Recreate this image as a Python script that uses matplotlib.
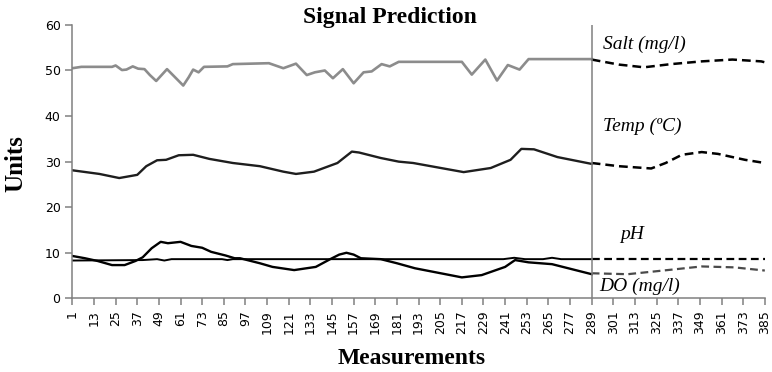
import matplotlib
matplotlib.use('Agg')
import matplotlib.pyplot as plt

salt_x = [1, 6, 23, 25, 28.5, 31, 34.5, 37.5, 41, 44, 47.5, 50.5, 53.5, 58, 62.5, 65.5, 68, 71, 74,
          87, 90, 110, 118, 125, 131, 135.5, 141, 145.5, 151, 157, 162.5, 167, 172.5, 177, 182,
          184.5, 217, 222.5, 230, 236.5, 242.5, 249, 254, 289]
salt_y = [50.5, 50.8, 50.8, 51.1, 50.1, 50.2, 50.9, 50.4, 50.3, 49.0, 47.7, 49.0, 50.3, 48.5, 46.7,
          48.5, 50.2, 49.6, 50.8, 50.9, 51.4, 51.6, 50.5, 51.5, 49.0, 49.6, 50.0, 48.3, 50.3, 47.2,
          49.6, 49.8, 51.4, 50.9, 51.9, 51.9, 51.9, 49.1, 52.4, 47.8, 51.2, 50.2, 52.5, 52.5]
salt_px = [289, 304, 318, 333, 350, 367, 383, 385]
salt_py = [52.4, 51.3, 50.7, 51.4, 52.0, 52.4, 52.0, 51.8]

temp_x = [1, 16, 27, 37, 42, 48, 53, 60, 68, 77, 90, 105, 118, 125, 135, 148, 156, 160, 172,
          182, 190, 218, 233, 244, 250, 257, 270, 289]
temp_y = [28.1, 27.3, 26.4, 27.1, 29.0, 30.3, 30.4, 31.4, 31.5, 30.6, 29.7, 29.0, 27.8, 27.3, 27.8,
          29.7, 32.2, 32.0, 30.8, 30.0, 29.7, 27.7, 28.6, 30.4, 32.8, 32.7, 31.0, 29.5]
temp_px = [289, 304, 322, 330, 339, 350, 359, 374, 385]
temp_py = [29.7, 29.0, 28.5, 29.7, 31.5, 32.1, 31.7, 30.4, 29.7]

ph_x = [1, 40, 48, 52, 56, 84, 87, 90, 240, 246, 252, 262, 267, 272, 289]
ph_y = [8.3, 8.4, 8.6, 8.3, 8.6, 8.6, 8.4, 8.6, 8.6, 8.9, 8.6, 8.6, 8.9, 8.6, 8.6]
ph_px = [289, 385]
ph_py = [8.6, 8.6]

do_x = [1, 8, 15, 23, 30, 36, 40, 45, 50, 54, 61, 67, 73, 78, 86, 91, 94, 105, 112, 124, 136,
        144, 149, 153, 157, 161, 172, 181, 191, 217, 228, 241, 246.5, 254, 267, 278, 289]
do_y = [9.3, 8.8, 8.2, 7.3, 7.3, 8.2, 9.0, 11.0, 12.4, 12.1, 12.4, 11.5, 11.1, 10.2, 9.4, 8.8,
        8.8, 7.7, 6.9, 6.2, 6.9, 8.6, 9.6, 10.0, 9.6, 8.8, 8.6, 7.7, 6.6, 4.6, 5.1, 6.9, 8.4, 7.9,
        7.5, 6.4, 5.3]
do_px = [289, 309, 331, 350, 368, 385]
do_py = [5.5, 5.3, 6.2, 7.0, 6.8, 6.1]

x_ticks = list(range(1, 386, 12))

fig = plt.figure(figsize=(7.72, 3.72), dpi=100)
ax = fig.add_axes([0.0937, 0.198, 0.897, 0.735])

ax.plot(salt_x, salt_y, color='#8c8c8c', lw=1.9)
ax.plot(salt_px, salt_py, color='black', lw=1.8, ls=(0, (3.5, 2)))
ax.plot(temp_x, temp_y, color='#1e1e1e', lw=1.7)
ax.plot(temp_px, temp_py, color='black', lw=1.8, ls=(0, (3.5, 2)))
ax.plot(ph_x, ph_y, color='black', lw=1.4)
ax.plot(ph_px, ph_py, color='black', lw=1.6, ls=(0, (3.5, 2)))
ax.plot(do_x, do_y, color='black', lw=1.7)
ax.plot(do_px, do_py, color='#4a4a4a', lw=1.6, ls=(0, (3.5, 2)))

ax.axvline(289, color='#808080', lw=1.1)

ax.set_xlim(1, 385)
ax.set_ylim(0, 60)
ax.set_yticks(range(0, 61, 10))
ax.set_xticks(x_ticks)
ax.set_xticklabels([str(t) for t in x_ticks], rotation=90)
for s in ['top', 'right']:
    ax.spines[s].set_visible(False)
for s in ['left', 'bottom']:
    ax.spines[s].set_color('#808080')
    ax.spines[s].set_linewidth(1.1)
ax.tick_params(axis='both', colors='#808080', labelcolor='black', labelsize=9,
               length=5, width=1.1, direction='out')

serif = 'Liberation Serif'
fig.text(0.505, 0.952, 'Signal Prediction', ha='center', va='center',
         fontfamily=serif, fontweight='bold', fontsize=17)
fig.text(0.02, 0.56, 'Units', ha='center', va='center', rotation=90,
         fontfamily=serif, fontweight='bold', fontsize=18)
fig.text(0.533, 0.037, 'Measurements', ha='center', va='center',
         fontfamily=serif, fontweight='bold', fontsize=17)

# series labels on the prediction side
ax.text(295, 55.7, 'Salt (mg/l)', fontfamily=serif, style='italic', fontsize=14, va='center')
ax.text(295.5, 37.8, 'Temp (ºC)', fontfamily=serif, style='italic', fontsize=14, va='center')
ax.text(305, 14.1, 'pH', fontfamily=serif, style='italic', fontsize=14, va='center')
ax.text(293, 2.6, 'DO (mg/l)', fontfamily=serif, style='italic', fontsize=14, va='center')

fig.savefig('out.png', dpi=100)
